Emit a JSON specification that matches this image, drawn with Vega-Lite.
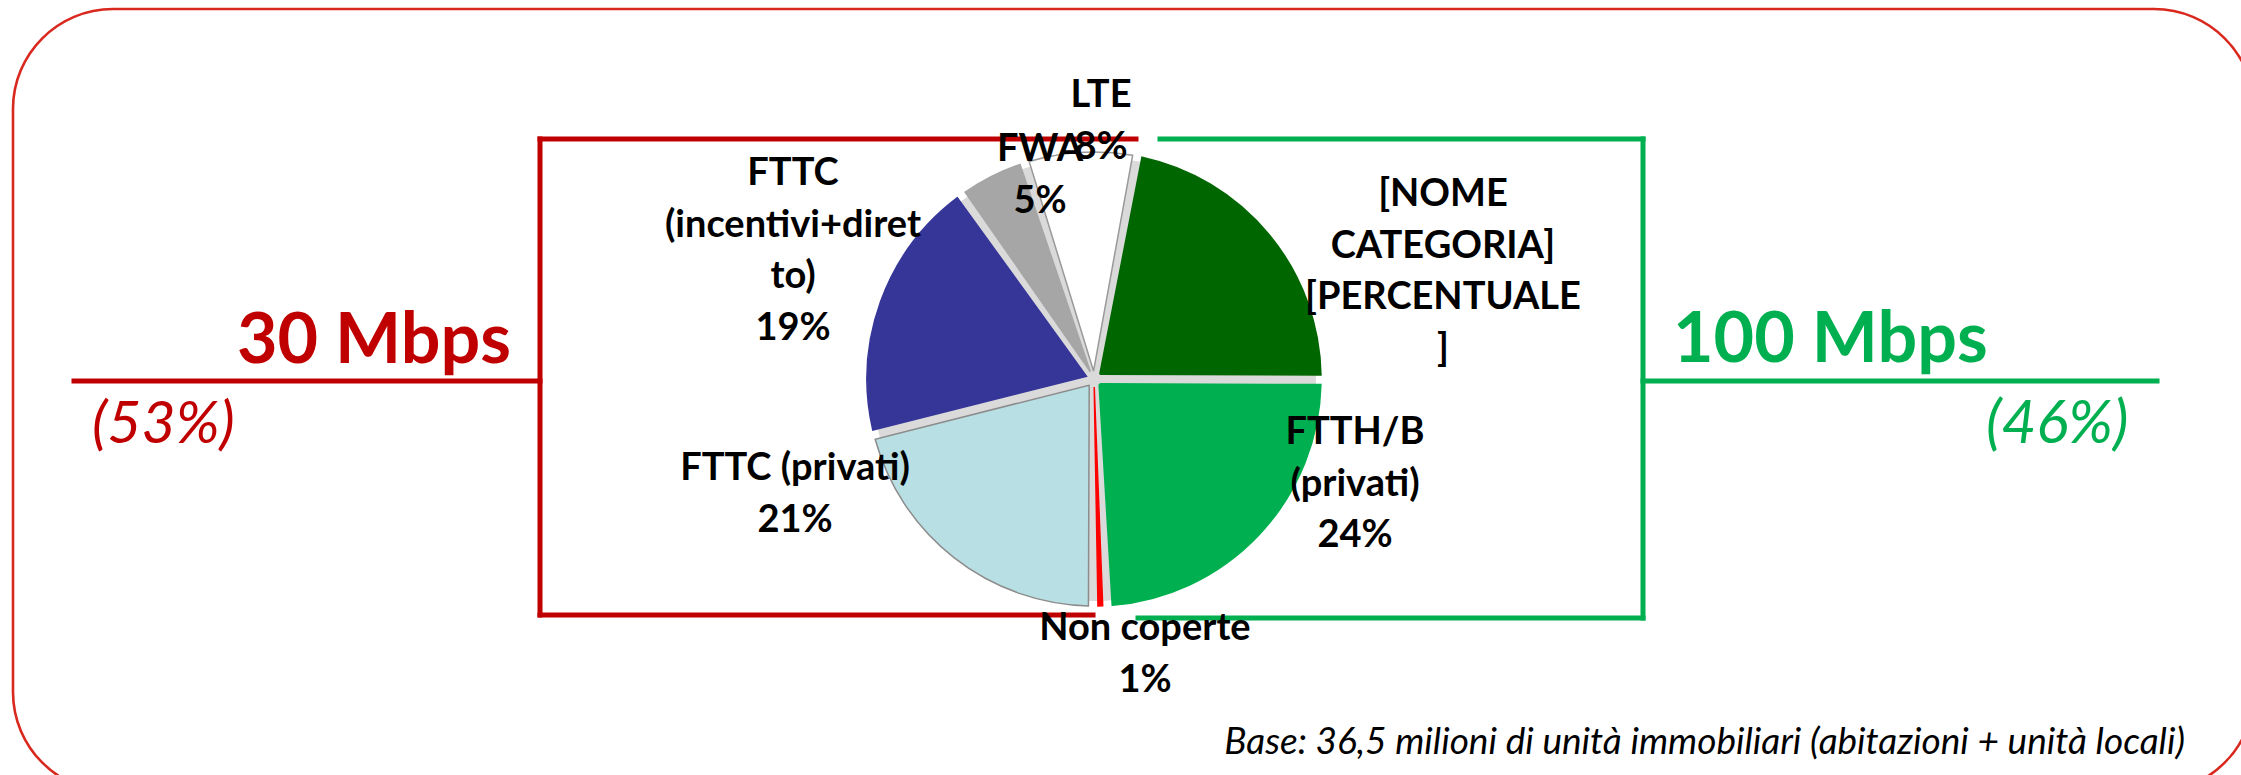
{
  "$schema": "https://vega.github.io/schema/vega-lite/v6.json",
  "width": 2241,
  "height": 775,
  "autosize": {"type": "none"},
  "padding": 0,
  "background": "white",
  "view": {"stroke": null},
  "config": {"font": "Lato"},
  "layer": [
    {
      "data": {"values": [{"x": 13, "y": 9, "x2": 2254, "y2": 792}]},
      "mark": {"type": "rect", "fill": null, "fillOpacity": 0, "stroke": "#D9291E", "strokeWidth": 2.6, "cornerRadius": 100, "clip": true},
      "encoding": {
        "x": {"field": "x", "type": "quantitative", "scale": {"domain": [0, 2241], "nice": false, "zero": false}, "axis": null},
        "x2": {"field": "x2"},
        "y": {"field": "y", "type": "quantitative", "scale": {"domain": [0, 775], "nice": false, "zero": false, "reverse": true}, "axis": null},
        "y2": {"field": "y2"}
      }
    },
    {
      "data": {"values": [
        {"x": 74, "y": 381, "x2": 540, "y2": 381},
        {"x": 540, "y": 139, "x2": 540, "y2": 615},
        {"x": 540, "y": 139, "x2": 1136, "y2": 139},
        {"x": 540, "y": 615, "x2": 1093, "y2": 615}
      ]},
      "mark": {"type": "rule", "color": "#C00000", "strokeWidth": 5, "strokeCap": "square"},
      "encoding": {
        "x": {"field": "x", "type": "quantitative", "axis": null},
        "x2": {"field": "x2"},
        "y": {"field": "y", "type": "quantitative", "axis": null},
        "y2": {"field": "y2"}
      }
    },
    {
      "data": {"values": [
        {"x": 1643, "y": 381, "x2": 2157, "y2": 381},
        {"x": 1643, "y": 139, "x2": 1643, "y2": 618},
        {"x": 1160, "y": 139, "x2": 1643, "y2": 139},
        {"x": 1138, "y": 618, "x2": 1643, "y2": 618}
      ]},
      "mark": {"type": "rule", "color": "#00B050", "strokeWidth": 5, "strokeCap": "square"},
      "encoding": {
        "x": {"field": "x", "type": "quantitative", "axis": null},
        "x2": {"field": "x2"},
        "y": {"field": "y", "type": "quantitative", "axis": null},
        "y2": {"field": "y2"}
      }
    },
    {
      "data": {"values": [{"cx": 1094, "cy": 379}]},
      "mark": {"type": "arc", "theta": 0, "theta2": 6.2832, "radius": 222, "radius2": 0, "fill": "#DADADA"},
      "encoding": {
        "x": {"field": "cx", "type": "quantitative", "axis": null},
        "y": {"field": "cy", "type": "quantitative", "axis": null}
      }
    },
    {
      "data": {"values": [
        {"cat": "[NOME CATEGORIA]", "val": 22, "ord": 1, "cx": 1094, "cy": 379},
        {"cat": "FTTH/B (privati)", "val": 24, "ord": 2, "cx": 1094, "cy": 379},
        {"cat": "Non coperte", "val": 1, "ord": 3, "cx": 1094, "cy": 379},
        {"cat": "FTTC (privati)", "val": 21, "ord": 4, "cx": 1094, "cy": 379},
        {"cat": "FTTC (incentivi+diretto)", "val": 19, "ord": 5, "cx": 1094, "cy": 379},
        {"cat": "FWA", "val": 5, "ord": 6, "cx": 1094, "cy": 379},
        {"cat": "LTE", "val": 8, "ord": 7, "cx": 1094, "cy": 379}
      ]},
      "mark": {"type": "arc", "radius": 227, "radius2": 8, "padAngle": 0.042, "strokeWidth": 1.5},
      "encoding": {
        "x": {"field": "cx", "type": "quantitative", "axis": null},
        "y": {"field": "cy", "type": "quantitative", "axis": null},
        "theta": {"field": "val", "type": "quantitative", "stack": true, "scale": {"range": [0.192, 6.4752]}},
        "order": {"field": "ord", "type": "quantitative"},
        "color": {"field": "cat", "type": "nominal", "legend": null,
          "scale": {"domain": ["[NOME CATEGORIA]", "FTTH/B (privati)", "Non coperte", "FTTC (privati)", "FTTC (incentivi+diretto)", "FWA", "LTE"],
                    "range": ["#006600", "#00B050", "#FF0000", "#B8DFE3", "#363699", "#A6A6A6", "#FFFFFF"]}},
        "stroke": {"field": "cat", "type": "nominal", "legend": null,
          "scale": {"domain": ["[NOME CATEGORIA]", "FTTH/B (privati)", "Non coperte", "FTTC (privati)", "FTTC (incentivi+diretto)", "FWA", "LTE"],
                    "range": ["#006600", "#00B050", "#FF0000", "#8C8C8C", "#363699", "#A6A6A6", "#999999"]}}
      }
    },
    {
      "data": {"values": [
        {"lines": ["[NOME", "CATEGORIA]", "[PERCENTUALE", "]"], "x": 1443, "y": 206},
        {"lines": ["FTTH/B", "(privati)", "24%"], "x": 1355, "y": 444},
        {"lines": ["Non coperte", "1%"], "x": 1145, "y": 640},
        {"lines": ["FTTC (privati)", "21%"], "x": 795, "y": 480},
        {"lines": ["FTTC", "(incentivi+diret", "to)", "19%"], "x": 793, "y": 185},
        {"lines": ["FWA", "5%"], "x": 1040, "y": 161},
        {"lines": ["LTE", "8%"], "x": 1101, "y": 107}
      ]},
      "mark": {"type": "text", "align": "center", "baseline": "alphabetic", "fontSize": 38, "fontWeight": "bold", "lineHeight": 51.5, "color": "#000000"},
      "encoding": {
        "x": {"field": "x", "type": "quantitative", "axis": null},
        "y": {"field": "y", "type": "quantitative", "axis": null},
        "text": {"field": "lines"}
      }
    },
    {
      "data": {"values": [{"t": "30 Mbps", "x": 511, "y": 363}]},
      "mark": {"type": "text", "align": "right", "baseline": "alphabetic", "fontSize": 70, "fontWeight": "bold", "color": "#C00000"},
      "encoding": {
        "x": {"field": "x", "type": "quantitative", "axis": null},
        "y": {"field": "y", "type": "quantitative", "axis": null},
        "text": {"field": "t"}
      }
    },
    {
      "data": {"values": [{"t": "100 Mbps", "x": 1673, "y": 362}]},
      "mark": {"type": "text", "align": "left", "baseline": "alphabetic", "fontSize": 70, "fontWeight": "bold", "color": "#00B050"},
      "encoding": {
        "x": {"field": "x", "type": "quantitative", "axis": null},
        "y": {"field": "y", "type": "quantitative", "axis": null},
        "text": {"field": "t"}
      }
    },
    {
      "data": {"values": [{"t": "(53%)", "x": 92, "y": 443}]},
      "mark": {"type": "text", "align": "left", "baseline": "alphabetic", "fontSize": 59, "fontStyle": "italic", "color": "#C00000"},
      "encoding": {
        "x": {"field": "x", "type": "quantitative", "axis": null},
        "y": {"field": "y", "type": "quantitative", "axis": null},
        "text": {"field": "t"}
      }
    },
    {
      "data": {"values": [{"t": "(46%)", "x": 1986, "y": 443}]},
      "mark": {"type": "text", "align": "left", "baseline": "alphabetic", "fontSize": 60, "fontStyle": "italic", "color": "#00B050"},
      "encoding": {
        "x": {"field": "x", "type": "quantitative", "axis": null},
        "y": {"field": "y", "type": "quantitative", "axis": null},
        "text": {"field": "t"}
      }
    },
    {
      "data": {"values": [{"t": "Base: 36,5 milioni di unità immobiliari (abitazioni + unità locali)", "x": 2185, "y": 754}]},
      "mark": {"type": "text", "align": "right", "baseline": "alphabetic", "fontSize": 37, "fontStyle": "italic", "color": "#000000"},
      "encoding": {
        "x": {"field": "x", "type": "quantitative", "axis": null},
        "y": {"field": "y", "type": "quantitative", "axis": null},
        "text": {"field": "t"}
      }
    }
  ]
}
